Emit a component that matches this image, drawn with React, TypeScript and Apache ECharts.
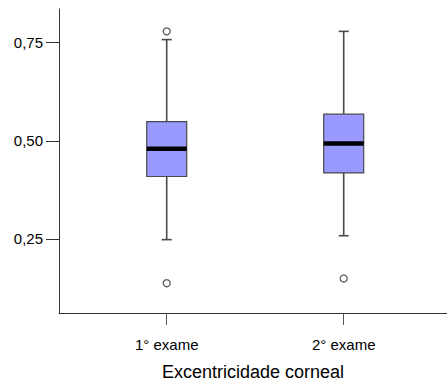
import React, { useEffect, useRef } from "react";
import * as echarts from "echarts";

// Groups on the horizontal axis
const categories = ["1° exame", "2° exame"];
// Box statistics per group: lower whisker, Q1, median, Q3, upper whisker
const lowerWhisker = [0.248, 0.258];
const q1 = [0.409, 0.418];
const median = [0.48, 0.493];
const q3 = [0.549, 0.568];
const upperWhisker = [0.758, 0.779];
// Outliers as [group position, value]
const outliers: [number, number][] = [
  [1, 0.779],
  [1, 0.137],
  [2, 0.149],
];
// Tick labels on the vertical axis
const yTicks = [0.25, 0.5, 0.75];

const FONT = "Liberation Sans";

export default function App() {
  const ref = useRef<HTMLDivElement>(null);

  useEffect(() => {
    if (!ref.current) return;
    const chart = echarts.init(ref.current, null, { renderer: "svg" });

    const boxData = categories.map((_, i) => [
      i + 1,
      lowerWhisker[i],
      q1[i],
      median[i],
      q3[i],
      upperWhisker[i],
    ]);

    const edge = "#4a4a4a";

    chart.setOption({
      animation: false,
      grid: {
        left: 59,
        right: 0,
        top: 9,
        bottom: 69,
        containLabel: false,
        outerBoundsMode: "none",
      },
      xAxis: {
        type: "value",
        min: 0.3915,
        max: 2.5836,
        name: "Excentricidade corneal",
        nameLocation: "middle",
        nameGap: 49,
        nameTextStyle: { fontFamily: FONT, fontSize: 18, color: "#000", lineHeight: 20 },
        axisLine: { onZero: false, lineStyle: { color: "#333", width: 1 } },
        axisTick: {
          show: true,
          customValues: [1, 2],
          length: 12,
          lineStyle: { color: "#555", width: 1 },
        },
        axisLabel: {
          customValues: [1, 2],
          formatter: (v: number) => categories[Math.round(v) - 1] ?? "",
          margin: 24,
          fontFamily: FONT,
          fontSize: 15,
          color: "#000",
        },
        splitLine: { show: false },
      },
      yAxis: {
        type: "value",
        min: 0.061,
        max: 0.836,
        axisLine: { show: true, onZero: false, lineStyle: { color: "#333", width: 1 } },
        axisTick: {
          show: true,
          customValues: yTicks,
          length: 13,
          lineStyle: { color: "#333", width: 1 },
        },
        axisLabel: {
          customValues: yTicks,
          formatter: (v: number) => v.toFixed(2).replace(".", ","),
          margin: 16,
          fontFamily: FONT,
          fontSize: 15,
          color: "#000",
        },
        splitLine: { show: false },
      },
      series: [
        {
          type: "custom",
          data: boxData,
          encode: { x: 0, y: [1, 2, 3, 4, 5] },
          renderItem: (_params: any, api: any) => {
            const x = api.value(0);
            const pLo = api.coord([x, api.value(1)]);
            const pQ1 = api.coord([x, api.value(2)]);
            const pMed = api.coord([x, api.value(3)]);
            const pQ3 = api.coord([x, api.value(4)]);
            const pHi = api.coord([x, api.value(5)]);
            const half = 20;
            const cap = 5;
            const cx = pMed[0];
            const whisker = { stroke: edge, lineWidth: 1.6 };
            return {
              type: "group",
              children: [
                { type: "line", shape: { x1: cx, y1: pHi[1], x2: cx, y2: pQ3[1] }, style: whisker },
                { type: "line", shape: { x1: cx, y1: pQ1[1], x2: cx, y2: pLo[1] }, style: whisker },
                { type: "line", shape: { x1: cx - cap, y1: pHi[1], x2: cx + cap, y2: pHi[1] }, style: whisker },
                { type: "line", shape: { x1: cx - cap, y1: pLo[1], x2: cx + cap, y2: pLo[1] }, style: whisker },
                {
                  type: "rect",
                  shape: { x: cx - half, y: pQ3[1], width: half * 2, height: pQ1[1] - pQ3[1] },
                  style: { fill: "#9999ff", stroke: edge, lineWidth: 1.2 },
                },
                {
                  type: "line",
                  shape: { x1: cx - half, y1: pMed[1], x2: cx + half, y2: pMed[1] },
                  style: { stroke: "#000", lineWidth: 4.5 },
                },
              ],
            };
          },
        },
        {
          type: "scatter",
          data: outliers,
          symbol: "circle",
          symbolSize: 7,
          itemStyle: { color: "#fff", borderColor: "#333", borderWidth: 1.3 },
        },
      ],
    });

    return () => chart.dispose();
  }, []);

  return (
    <div
      ref={ref}
      style={{ position: "fixed", left: 0, top: 0, width: 447, height: 382, background: "#fff" }}
    />
  );
}
